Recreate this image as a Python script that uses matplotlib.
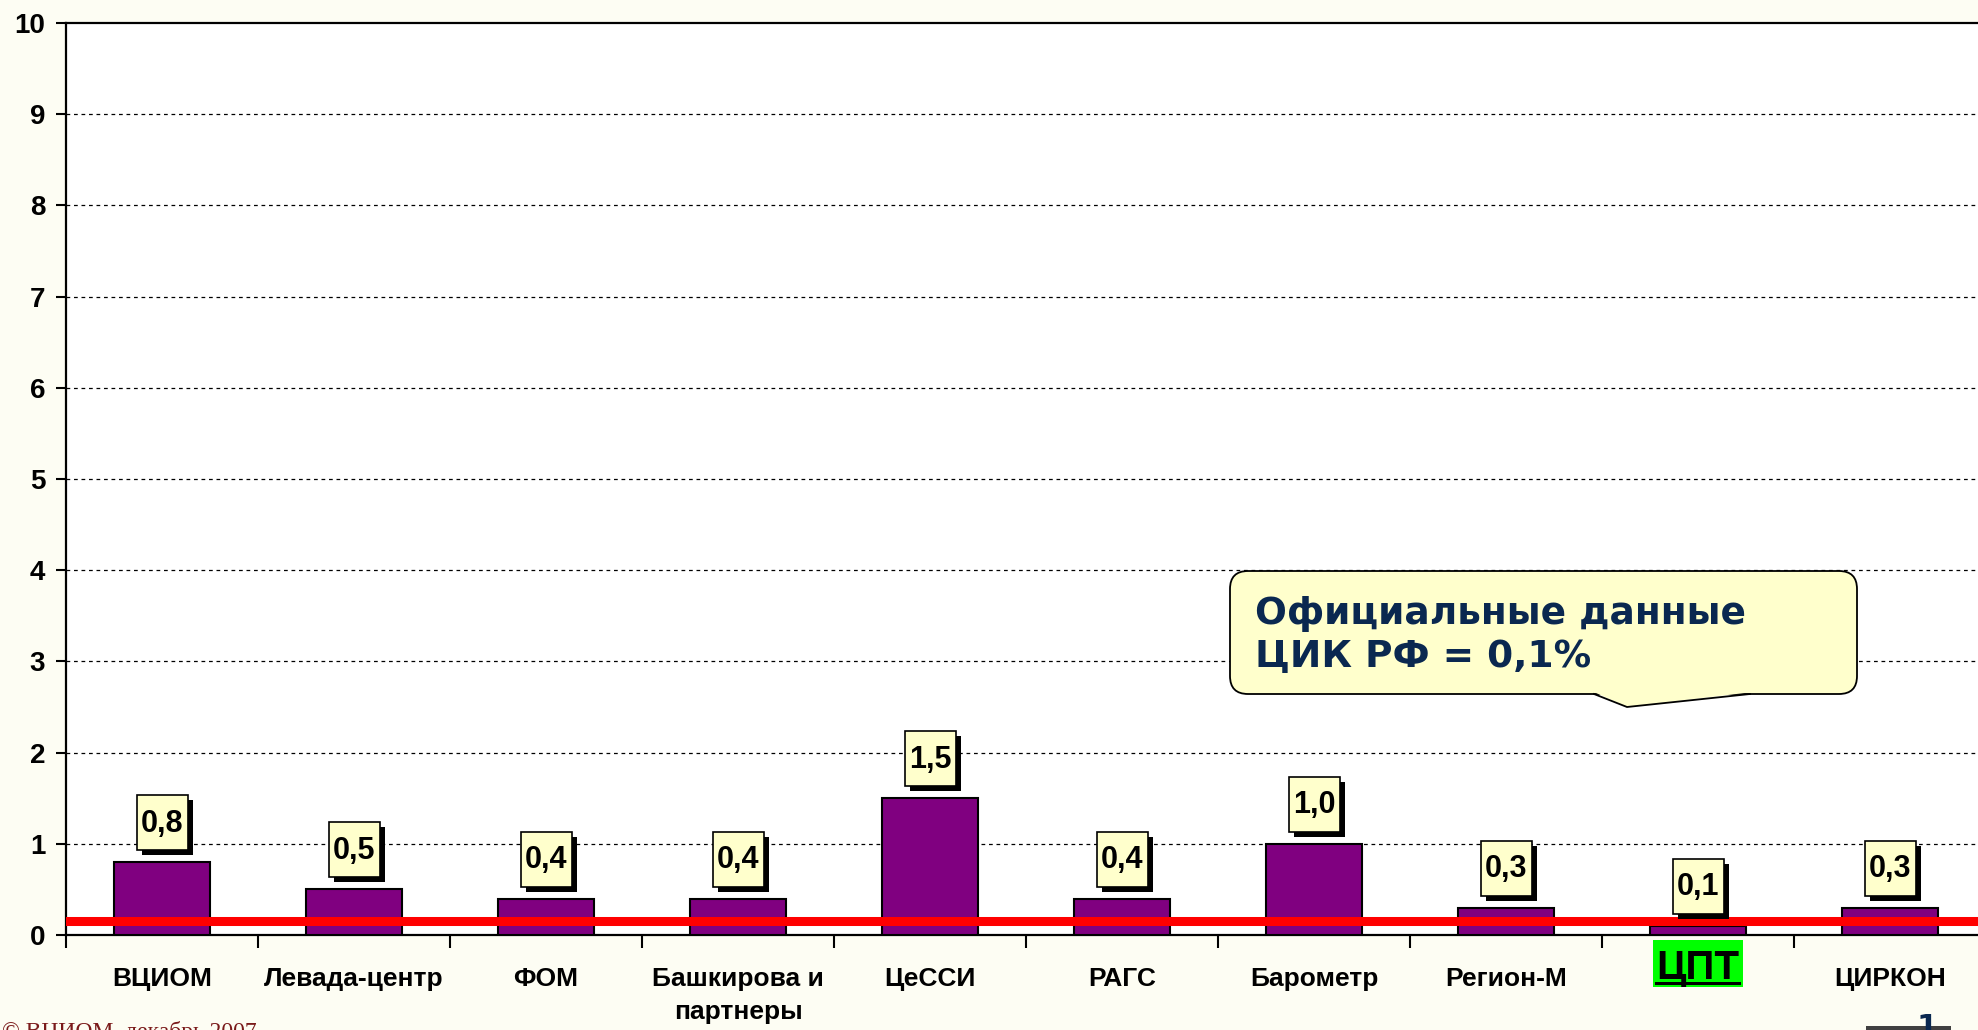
import matplotlib
matplotlib.use('Agg')
import matplotlib.pyplot as plt
import matplotlib.transforms as mtransforms
from matplotlib import font_manager
from matplotlib.patches import Rectangle, FancyBboxPatch, Polygon
from matplotlib.lines import Line2D

# ---------------- data ----------------
categories = ['ВЦИОМ', 'Левада-центр', 'ФОМ', 'Башкирова и\nпартнеры', 'ЦеССИ',
              'РАГС', 'Барометр', 'Регион-М', 'ЦПТ', 'ЦИРКОН']
values = [0.8, 0.5, 0.4, 0.4, 1.5, 0.4, 1.0, 0.3, 0.1, 0.3]
value_labels = ['0,8', '0,5', '0,4', '0,4', '1,5', '0,4', '1,0', '0,3', '0,1', '0,3']
y_ticks = list(range(0, 11))
official_level = 0.15
callout_lines = ['Официальные данные', 'ЦИК РФ = 0,1%']
highlight_index = 8
footer_text = '© ВЦИОМ, декабрь 2007'
page_number = '1'


def has_font(name):
    try:
        font_manager.findfont(font_manager.FontProperties(family=name, weight='bold'),
                              fallback_to_default=False)
        return True
    except Exception:
        return False


SANS = ['Liberation Sans', 'DejaVu Sans']
if has_font('Liberation Sans Narrow'):
    NARROW = ['Liberation Sans Narrow', 'Liberation Sans', 'DejaVu Sans']
    ytick_size, vlabel_size = 24, 23
else:
    NARROW = SANS
    ytick_size, vlabel_size = 20, 22

# ---------------- figure ----------------
W, H = 1978, 1030
fig = plt.figure(figsize=(W / 100, H / 100), dpi=100, facecolor='#fdfdf3')
PX = mtransforms.IdentityTransform()

ax = fig.add_axes([66 / W, 1 - 935 / H, 1920 / W, 912 / H])
ax.set_facecolor('white')

xs = list(range(len(categories)))
ax.bar(xs, values, width=0.5, color='#800080', edgecolor='black', linewidth=1.5, zorder=3)
ax.axhline(official_level, color='#ff0000', linewidth=6.5, zorder=4)

for yv in y_ticks[1:-1]:
    ax.axhline(yv, color='black', linewidth=0.9, linestyle=(0, (3, 3)), zorder=1)

ax.set_xlim(-0.5, len(categories) - 0.5)
ax.set_ylim(0, 10)

ax.set_yticks(y_ticks)
ax.set_yticklabels([str(t) for t in y_ticks], family=NARROW, fontweight='bold',
                   fontsize=ytick_size)
ax.tick_params(axis='y', length=7, width=1.5, pad=8)

# the highlighted category is drawn separately (green box) instead of as a tick label
tick_texts = ['' if i == highlight_index else c for i, c in enumerate(categories)]
ax.set_xticks(xs)
ax.set_xticklabels(tick_texts, family=SANS, fontweight='bold', fontsize=19, linespacing=1.5)
ax.set_xticks([i - 0.5 for i in range(len(categories) + 1)], minor=True)
ax.tick_params(axis='x', which='major', length=0, pad=23)
ax.tick_params(axis='x', which='minor', length=9, width=1.5)

for side in ['left', 'bottom', 'top']:
    ax.spines[side].set_color('black')
    ax.spines[side].set_linewidth(1.6)
ax.spines['right'].set_visible(False)

# ---------------- value labels ----------------
BW, BH, GAP, SH = 51, 55, 12, 5
for xi, v, s in zip(xs, values, value_labels):
    tr = PX + mtransforms.ScaledTranslation(xi, v, ax.transData)
    ax.add_artist(Rectangle((-BW / 2 + SH, GAP - SH), BW, BH, transform=tr,
                            facecolor='black', edgecolor='none', zorder=5, clip_on=False))
    ax.add_artist(Rectangle((-BW / 2, GAP), BW, BH, transform=tr,
                            facecolor='#ffffcc', edgecolor='black', linewidth=1.2,
                            zorder=6, clip_on=False))
    ax.text(0, GAP + BH / 2 - 1, s, transform=tr, ha='center', va='center',
            family=NARROW, fontweight='bold', fontsize=vlabel_size, zorder=7, clip_on=False)

# ---------------- callout ----------------
cl, cr, ct, cb = 1230, 1857, 571, 694
fig.add_artist(FancyBboxPatch((cl, H - cb), cr - cl, cb - ct,
                              boxstyle='round,pad=0,rounding_size=18', transform=PX,
                              facecolor='#ffffcc', edgecolor='black', linewidth=1.3, zorder=8))
fig.add_artist(Polygon([(1595, H - cb + 1.5), (1627, H - 707), (1749, H - cb + 1.5)],
                       closed=True, transform=PX, facecolor='#ffffcc', edgecolor='none', zorder=9))
fig.add_artist(Line2D([1594, 1627, 1750], [H - cb, H - 707, H - cb], transform=PX,
                      color='black', linewidth=1.3, zorder=10))
fig.text(1255, H - 624, callout_lines[0], transform=PX, ha='left', va='baseline',
         family='DejaVu Sans', fontweight='bold', fontsize=27, color='#0a2850', zorder=11)
fig.text(1255, H - 667, callout_lines[1], transform=PX, ha='left', va='baseline',
         family='DejaVu Sans', fontweight='bold', fontsize=27, color='#0a2850', zorder=11)

# ---------------- highlighted ЦПТ label ----------------
hx = ax.transData.transform((xs[highlight_index], 0))[0]
fig.add_artist(Rectangle((hx - 45, H - 987), 90, 47, transform=PX,
                         facecolor='#00ff00', edgecolor='none', zorder=12))
fig.text(hx, H - 979, categories[highlight_index], transform=PX, ha='center', va='baseline',
         family=SANS, fontweight='bold', fontsize=29, color='black', zorder=13)
fig.add_artist(Rectangle((hx - 43, H - 985), 86, 3.5, transform=PX,
                         facecolor='black', edgecolor='none', zorder=13))

# ---------------- footer ----------------
fig.text(2, H - 1021, footer_text, transform=PX, ha='left', va='top',
         family=['Liberation Serif', 'DejaVu Serif'], fontsize=17, color='#7a1a1a')
fig.add_artist(Rectangle((1866, 0), 85, 4, transform=PX,
                         facecolor='#404040', edgecolor='none', zorder=12))
fig.text(1927, H - 1013, page_number, transform=PX, ha='center', va='top',
         family='DejaVu Sans', fontweight='bold', fontsize=22, color='#0a2850', zorder=13)

fig.savefig('out.png', dpi=100, facecolor=fig.get_facecolor())
